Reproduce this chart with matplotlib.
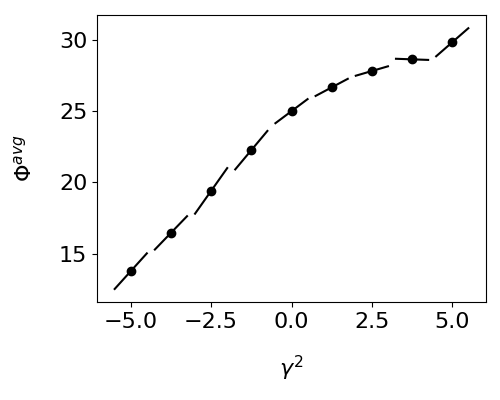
import matplotlib
matplotlib.use('Agg')
from matplotlib import pyplot as plt

# Values.
gamma2 = [-5.0, -3.75, -2.5, -1.25, 0.0, 1.25, 2.5, 3.75, 5.0]
phi_avg = [13.76, 16.45, 19.40, 22.26, 25.00, 26.67, 27.82, 28.64, 29.84]
# Local slope drawn as a short segment through each point.
slopes = [2.50, 2.34, 3.20, 2.70, 1.69, 1.20, 0.66, -0.08, 1.97]
half_width = 0.5

fig = plt.figure(figsize=(5, 4), dpi=100)
ax = fig.add_axes([0.194, 0.245, 0.778, 0.717])

for x, y, s in zip(gamma2, phi_avg, slopes):
    xs = [x - half_width, x + half_width]
    ys = [y - s * half_width, y + s * half_width]
    ax.plot(xs, ys, c='black', lw=1.5)

ax.plot(gamma2, phi_avg, 'o', c='black')

ax.set_xlabel(r'$\gamma^2$', fontsize=16, labelpad=16)
ax.set_ylabel(r'$\Phi^{avg}$', fontsize=16, labelpad=17)
ax.tick_params(axis='both', which='major', labelsize=16)

fig.savefig('out.png')
